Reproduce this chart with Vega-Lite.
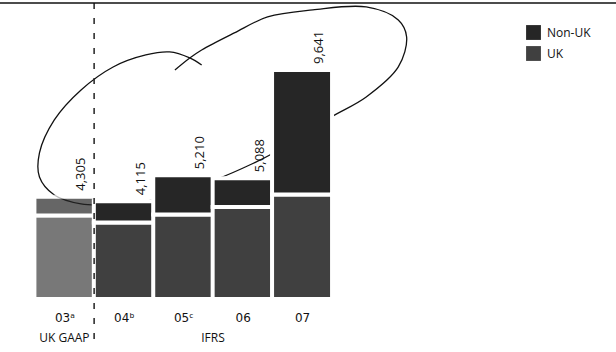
{
  "$schema": "https://vega.github.io/schema/vega-lite/v6.json",
  "width": 616,
  "height": 296,
  "autosize": {"type": "none"},
  "padding": {"left": 0, "top": 3, "right": 0, "bottom": 53},
  "config": {"view": {"stroke": null}, "font": "Open Sans", "axis": {"grid": false}},
  "datasets": {
    "bars": [
      {"year": 2003, "basis": "UK GAAP", "region": "UK", "value": 3515},
      {"year": 2003, "basis": "UK GAAP", "region": "Non-UK", "value": 790},
      {"year": 2004, "basis": "IFRS", "region": "UK", "value": 3221},
      {"year": 2004, "basis": "IFRS", "region": "Non-UK", "value": 894},
      {"year": 2005, "basis": "IFRS", "region": "UK", "value": 3558},
      {"year": 2005, "basis": "IFRS", "region": "Non-UK", "value": 1652},
      {"year": 2006, "basis": "IFRS", "region": "UK", "value": 3873},
      {"year": 2006, "basis": "IFRS", "region": "Non-UK", "value": 1215},
      {"year": 2007, "basis": "IFRS", "region": "UK", "value": 4400},
      {"year": 2007, "basis": "IFRS", "region": "Non-UK", "value": 5241}
    ],
    "outline": [
      {"i": 0, "x": 2005.31, "y": 9852},
      {"i": 1, "x": 2005.11, "y": 10146},
      {"i": 2, "x": 2004.77, "y": 10399},
      {"i": 3, "x": 2004.37, "y": 10273},
      {"i": 4, "x": 2003.82, "y": 9768},
      {"i": 5, "x": 2003.28, "y": 8799},
      {"i": 6, "x": 2002.83, "y": 7536},
      {"i": 7, "x": 2002.58, "y": 6147},
      {"i": 8, "x": 2002.58, "y": 5136},
      {"i": 9, "x": 2002.83, "y": 4379},
      {"i": 10, "x": 2003.28, "y": 4000},
      {"i": 11, "x": 2003.66, "y": 3958},
      {"i": 12, "x": 2004.2, "y": 4042},
      {"i": 13, "x": 2004.48, "y": 4168},
      {"i": 14, "x": 2005.53, "y": 5010},
      {"i": 15, "x": 2006.19, "y": 5726},
      {"i": 16, "x": 2006.52, "y": 6147},
      {"i": 17, "x": 2007.46, "y": 7620},
      {"i": 18, "x": 2008.08, "y": 8505},
      {"i": 19, "x": 2008.62, "y": 9768},
      {"i": 20, "x": 2008.76, "y": 11031},
      {"i": 21, "x": 2008.62, "y": 11746},
      {"i": 22, "x": 2008.08, "y": 12294},
      {"i": 23, "x": 2007.18, "y": 12167},
      {"i": 24, "x": 2006.42, "y": 11873},
      {"i": 25, "x": 2005.86, "y": 11199},
      {"i": 26, "x": 2005.31, "y": 10483},
      {"i": 27, "x": 2005.11, "y": 10146},
      {"i": 28, "x": 2004.86, "y": 9641}
    ]
  },
  "layer": [
    {
      "data": {"name": "outline"},
      "mark": {"type": "line", "interpolate": "catmull-rom", "color": "#111", "strokeWidth": 1.3},
      "encoding": {
        "x": {"field": "x", "type": "quantitative", "scale": {"domain": [2002, 2012.2], "nice": false, "zero": false},
          "axis": {"values": [2003, 2004, 2005, 2006, 2007], "labelExpr": "datum.value == 2003 ? '03ᵃ' : datum.value == 2004 ? '04ᵇ' : datum.value == 2005 ? '05ᶜ' : '0' + (datum.value - 2000)", "title": null, "domain": false, "ticks": false, "tickSize": 0, "labelPadding": 13, "labelFontSize": 12, "labelFont": "DejaVu Sans", "labelColor": "#111", "grid": false}},
        "y": {"field": "y", "type": "quantitative", "scale": {"domain": [0, 12460], "nice": false}, "axis": null},
        "order": {"field": "i", "type": "quantitative"}
      }
    },
    {
      "data": {"name": "bars"},
      "mark": {"type": "bar", "width": 60, "stroke": "white", "strokeWidth": 4},
      "encoding": {
        "x": {"field": "year", "type": "quantitative", "scale": {"domain": [2002, 2012.2], "nice": false, "zero": false},
          "axis": {"values": [2003, 2004, 2005, 2006, 2007], "labelExpr": "datum.value == 2003 ? '03ᵃ' : datum.value == 2004 ? '04ᵇ' : datum.value == 2005 ? '05ᶜ' : '0' + (datum.value - 2000)", "title": null, "domain": false, "ticks": false, "tickSize": 0, "labelPadding": 13, "labelFontSize": 12, "labelFont": "DejaVu Sans", "labelColor": "#111", "grid": false}},
        "y": {"field": "value", "type": "quantitative", "aggregate": "sum", "stack": "zero", "scale": {"domain": [0, 12460], "nice": false}, "axis": null},
        "color": {"field": "region", "type": "nominal", "scale": {"domain": ["Non-UK", "UK"], "range": ["#262626", "#404040"]},
          "legend": {"title": null, "orient": "none", "legendX": 526, "legendY": 22, "symbolType": "square", "symbolSize": 220, "symbolStrokeWidth": 0, "labelFontSize": 12, "labelColor": "#111", "rowPadding": 6, "labelOffset": 6}},
        "opacity": {"condition": {"test": "datum.year === 2003", "value": 0.7}, "value": 1},
        "order": {"field": "region", "sort": "descending"}
      }
    },
    {
      "data": {"name": "bars"},
      "transform": [{"aggregate": [{"op": "sum", "field": "value", "as": "total"}], "groupby": ["year"]}],
      "mark": {"type": "text", "angle": 270, "align": "left", "baseline": "middle", "dx": 6, "dy": 17, "fontSize": 13, "color": "#111"},
      "encoding": {
        "x": {"field": "year", "type": "quantitative", "scale": {"domain": [2002, 2012.2], "nice": false, "zero": false},
          "axis": {"values": [2003, 2004, 2005, 2006, 2007], "labelExpr": "datum.value == 2003 ? '03ᵃ' : datum.value == 2004 ? '04ᵇ' : datum.value == 2005 ? '05ᶜ' : '0' + (datum.value - 2000)", "title": null, "domain": false, "ticks": false, "tickSize": 0, "labelPadding": 13, "labelFontSize": 12, "labelFont": "DejaVu Sans", "labelColor": "#111", "grid": false}},
        "y": {"field": "total", "type": "quantitative", "scale": {"domain": [0, 12460], "nice": false}, "axis": null},
        "text": {"field": "total", "type": "quantitative", "format": ","}
      }
    },
    {
      "data": {"name": "bars"},
      "transform": [{"aggregate": [{"op": "mean", "field": "year", "as": "mid"}], "groupby": ["basis"]}],
      "mark": {"type": "text", "baseline": "middle", "align": "center", "dy": 39, "fontSize": 12, "color": "#111"},
      "encoding": {
        "x": {"field": "mid", "type": "quantitative", "scale": {"domain": [2002, 2012.2], "nice": false, "zero": false},
          "axis": {"values": [2003, 2004, 2005, 2006, 2007], "labelExpr": "datum.value == 2003 ? '03ᵃ' : datum.value == 2004 ? '04ᵇ' : datum.value == 2005 ? '05ᶜ' : '0' + (datum.value - 2000)", "title": null, "domain": false, "ticks": false, "tickSize": 0, "labelPadding": 13, "labelFontSize": 12, "labelFont": "DejaVu Sans", "labelColor": "#111", "grid": false}},
        "y": {"datum": 0, "type": "quantitative"},
        "text": {"field": "basis", "type": "nominal"}
      }
    },
    {
      "data": {"values": [{}]},
      "mark": {"type": "rule", "strokeDash": [6, 9], "strokeWidth": 1.5, "color": "#222"},
      "encoding": {
        "x": {"datum": 2003.5, "type": "quantitative"},
        "y": {"datum": 12460, "type": "quantitative"},
        "y2": {"datum": -2000}
      }
    },
    {
      "data": {"values": [{}]},
      "mark": {"type": "rule", "strokeWidth": 1.6, "color": "#111"},
      "encoding": {
        "y": {"datum": 12460, "type": "quantitative"}
      }
    }
  ]
}
